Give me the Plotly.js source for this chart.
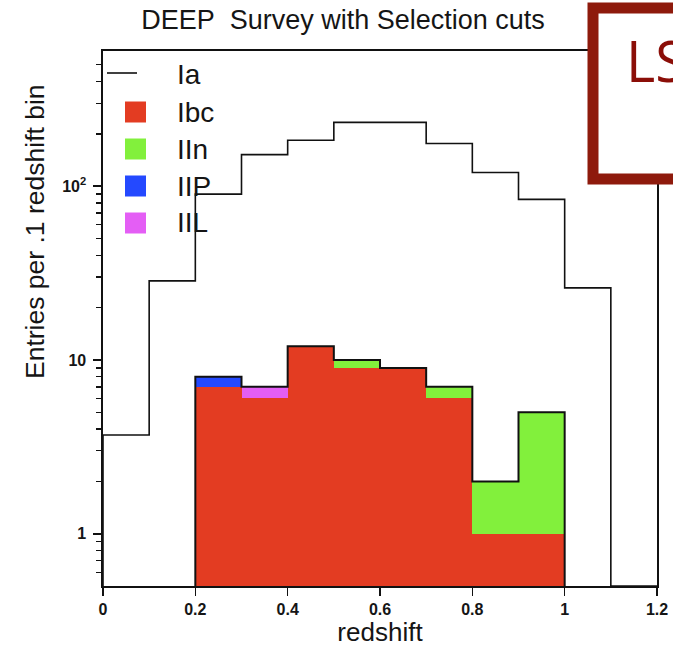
<!DOCTYPE html>
<html><head><meta charset="utf-8">
<script src="https://cdn.plot.ly/plotly-3.0.1.min.js"></script>
<style>html,body{margin:0;padding:0;background:#fff}#chart{width:673px;height:647px}</style>
</head><body><div id="chart"></div>
<script>
// ---- data ----
const binLow = [0.0, 0.1, 0.2, 0.3, 0.4, 0.5, 0.6, 0.7, 0.8, 0.9, 1.0, 1.1];
const binWidth = 0.1;
const Ia  = [3.7, 28.5, 90, 152, 184, 233, 233, 176, 120, 84, 26, 0];
const Ibc = [0, 0, 7, 6, 12, 9, 9, 6, 1, 1, 0, 0];
const IIn = [0, 0, 0, 0, 0, 1, 0, 1, 1, 4, 0, 0];
const IIP = [0, 0, 1, 0, 0, 0, 0, 0, 0, 0, 0, 0];
const IIL = [0, 0, 0, 1, 0, 0, 0, 0, 0, 0, 0, 0];
const xTickVals = [0, 0.2, 0.4, 0.6, 0.8, 1, 1.2];
const xTickText = ["0", "0.2", "0.4", "0.6", "0.8", "1", "1.2"];
const yTickVals = [1, 10, 100];
const yTickText = ["1", "10", "10<sup>2</sup>"];
const yMinorVals = [0.6,0.7,0.8,0.9,2,3,4,5,6,7,8,9,20,30,40,50,60,70,80,90,200,300,400,500];
const yMin = 0.5, yMax = 600;
const legendNames = ["Ia", "Ibc", "IIn", "IIP", "IIL"];
const colors = {Ibc: "#e33c22", IIn: "#82f03c", IIP: "#2449ff", IIL: "#e45ef5"};

// ---- helpers ----
const centers = binLow.map(v => v + binWidth / 2);
const total = Ibc.map((v, i) => v + IIn[i] + IIP[i] + IIL[i]);
function stepLine(vals, from, to) {
  const xs = [binLow[from]], ys = [yMin];
  for (let i = from; i <= to; i++) {
    const v = vals[i] > 0 ? vals[i] : yMin;
    xs.push(binLow[i], binLow[i] + binWidth);
    ys.push(v, v);
  }
  xs.push(binLow[to] + binWidth); ys.push(yMin);
  return {xs, ys};
}
const iaStep = stepLine(Ia, 0, binLow.length - 1);
const firstNZ = total.findIndex(v => v > 0);
let lastNZ = total.length - 1; while (total[lastNZ] <= 0) lastNZ--;
const totStep = stepLine(total, firstNZ, lastNZ);

const bar = (name, vals) => ({type: "bar", name, x: centers, y: vals, width: binWidth,
  marker: {color: colors[name], line: {width: 0}}, showlegend: false, hoverinfo: "x+y+name"});

const traces = [
  bar("Ibc", Ibc), bar("IIn", IIn), bar("IIP", IIP), bar("IIL", IIL),
  {type: "scatter", mode: "lines", name: "total", x: totStep.xs, y: totStep.ys,
   line: {color: "#111", width: 2}, showlegend: false},
  {type: "scatter", mode: "lines", name: "Ia", x: iaStep.xs, y: iaStep.ys,
   line: {color: "#111", width: 1.6}, showlegend: false}
];

// plot area in pixels
const L = 103, R = 657, T = 51, B = 586, W = 673, H = 647;
const px = x => (x - L) / (R - L);
const py = y => (B - y) / (B - T);

const txtColor = "#151515";
const shapes = [], annotations = [];
// custom legend
const legY = [75, 112, 149, 186, 223];
shapes.push({type: "line", xref: "paper", yref: "paper", x0: px(107), x1: px(137), y0: py(73), y1: py(73),
  line: {color: "#111", width: 1.6}});
legendNames.forEach((n, k) => {
  if (k > 0) {
    shapes.push({type: "rect", xref: "paper", yref: "paper", x0: px(125), x1: px(146),
      y0: py(legY[k] - 10.5), y1: py(legY[k] + 10.5), fillcolor: colors[n], line: {width: 0}});
  }
  annotations.push({xref: "paper", yref: "paper", x: px(175), y: py(legY[k]), xanchor: "left", yanchor: "middle",
    text: n, showarrow: false, font: {family: "Liberation Sans, Arial, sans-serif", size: 28, color: txtColor}});
});
// y title
annotations.push({xref: "paper", yref: "paper", x: px(35), y: py(232), xanchor: "center", yanchor: "middle",
  textangle: -90, text: "Entries per .1 redshift bin", showarrow: false,
  font: {family: "Liberation Sans, Arial, sans-serif", size: 26.5, color: txtColor}});
// LS box
shapes.push({type: "rect", xref: "paper", yref: "paper", layer: "above", x0: px(593), x1: px(700), y0: py(8), y1: py(179),
  fillcolor: "#ffffff", line: {color: "#8e1a0c", width: 11}});
annotations.push({xref: "paper", yref: "paper", x: px(624), y: py(60), xanchor: "left", yanchor: "middle",
  text: "LS", showarrow: false, font: {family: "Open Sans, Lato, sans-serif", size: 56, color: "#8b0e08"}});

const tickFont = {family: "Liberation Sans, Arial, sans-serif", size: 16, weight: "bold", color: txtColor};
const layout = {
  width: W, height: H,
  margin: {l: L, r: W - R, t: T, b: H - B, pad: 0},
  paper_bgcolor: "#fff", plot_bgcolor: "#fff",
  barmode: "stack", bargap: 0,
  showlegend: false,
  title: {text: "DEEP\u00a0 Survey with Selection cuts", x: 343 / W, xref: "container", xanchor: "center",
    y: 1 - 20 / H, yref: "container", yanchor: "middle",
    font: {family: "Liberation Sans, Arial, sans-serif", size: 27, color: txtColor}},
  xaxis: {range: [0, 1.2], tickmode: "array", tickvals: xTickVals, ticktext: xTickText,
    ticks: "outside", ticklen: 8, tickwidth: 1.6, tickcolor: "#111", tickfont: tickFont,
    showline: true, linecolor: "#111", linewidth: 1.6, mirror: true, showgrid: false, zeroline: false,
    title: {text: "redshift", font: {family: "Liberation Sans, Arial, sans-serif", size: 26, color: txtColor}, standoff: 6}},
  yaxis: {type: "log", range: [Math.log10(yMin), Math.log10(yMax)], tickmode: "array",
    tickvals: yTickVals, ticktext: yTickText,
    ticks: "outside", ticklen: 8, tickwidth: 1.6, tickcolor: "#111", tickfont: tickFont, ticklabelstandoff: 4,
    minor: {tickmode: "array", tickvals: yMinorVals, ticks: "outside", ticklen: 5, tickwidth: 1.4, tickcolor: "#111", showgrid: false},
    showline: true, linecolor: "#111", linewidth: 1.6, mirror: true, showgrid: false, zeroline: false},
  shapes, annotations
};
Plotly.newPlot("chart", traces, layout, {displayModeBar: false, staticPlot: true});
</script></body></html>
